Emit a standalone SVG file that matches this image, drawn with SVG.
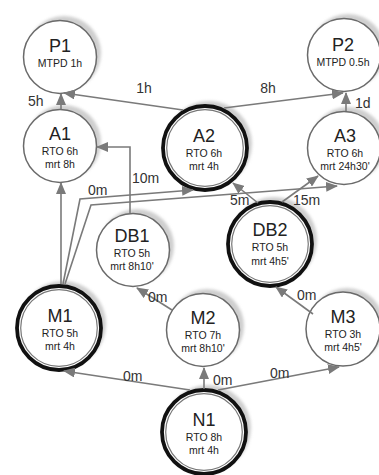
<svg xmlns="http://www.w3.org/2000/svg" width="379" height="475" viewBox="0 0 379 475">
<style>
.bg{fill:#fff}
.sh{fill:#cfcfcf;filter:url(#blur)}
.ring{fill:#fff;stroke:#6a6a6a;stroke-width:1.5}
.thick{fill:#fff;stroke:#111;stroke-width:3.8}
.inner{fill:none;stroke:#777;stroke-width:1.2}
.nm{font-family:"Liberation Sans",Arial,sans-serif;font-size:18px;fill:#222;text-anchor:middle}
.sub{font-family:"Liberation Sans",Arial,sans-serif;font-size:10.5px;fill:#222;text-anchor:middle}
.lbl{font-family:"Liberation Sans",Arial,sans-serif;font-size:14px;fill:#333}
.e{fill:none;stroke:#7a7a7a;stroke-width:1.6;marker-end:url(#ah)}
</style>
<defs>
<filter id="blur" x="-20%" y="-20%" width="140%" height="140%"><feGaussianBlur stdDeviation="1.5"/></filter>
<marker id="ah" markerUnits="userSpaceOnUse" markerWidth="12" markerHeight="10" refX="11" refY="5" orient="auto"><path d="M0,0 L12,5 L0,10 Z" fill="#7a7a7a"/></marker>
</defs>
<rect class="bg" width="379" height="475"/>

<g id="P1"><circle class="sh" cx="64" cy="53" r="37"/><circle class="ring" cx="60" cy="57" r="36.5"/><text class="nm" x="60" y="52">P1</text><text class="sub" x="60" y="67">MTPD 1h</text></g>
<g id="P2"><circle class="sh" cx="348" cy="51" r="37"/><circle class="ring" cx="344" cy="55" r="36.5"/><text class="nm" x="343" y="51">P2</text><text class="sub" x="343" y="66">MTPD 0.5h</text></g>
<g id="A1"><circle class="sh" cx="64" cy="142" r="37"/><circle class="ring" cx="60" cy="146" r="36.5"/><text class="nm" x="60" y="140">A1</text><text class="sub" x="60" y="155">RTO 6h</text><text class="sub" x="60" y="168">mrt 8h</text></g>
<g id="A2"><circle class="sh" cx="209" cy="144" r="43"/><circle class="thick" cx="205" cy="148" r="42"/><circle class="inner" cx="205" cy="148" r="38.3"/><text class="nm" x="204" y="142">A2</text><text class="sub" x="204" y="157">RTO 6h</text><text class="sub" x="204" y="170">mrt 4h</text></g>
<g id="A3"><circle class="sh" cx="348" cy="144" r="37"/><circle class="ring" cx="344" cy="148" r="36.5"/><text class="nm" x="345" y="142">A3</text><text class="sub" x="345" y="157">RTO 6h</text><text class="sub" x="345" y="170">mrt 24h30'</text></g>
<g id="DB1"><circle class="sh" cx="137" cy="246" r="37"/><circle class="ring" cx="133" cy="250" r="36.5"/><text class="nm" x="132" y="242">DB1</text><text class="sub" x="132" y="257">RTO 5h</text><text class="sub" x="132" y="270">mrt 8h10'</text></g>
<g id="DB2"><circle class="sh" cx="274" cy="240" r="43"/><circle class="thick" cx="270" cy="244" r="42"/><circle class="inner" cx="270" cy="244" r="38.3"/><text class="nm" x="270" y="236">DB2</text><text class="sub" x="270" y="251">RTO 5h</text><text class="sub" x="270" y="265">mrt 4h5'</text></g>
<g id="M1"><circle class="sh" cx="63" cy="324" r="43"/><circle class="thick" cx="59" cy="328" r="42"/><circle class="inner" cx="59" cy="328" r="38.3"/><text class="nm" x="60" y="322">M1</text><text class="sub" x="60" y="337">RTO 5h</text><text class="sub" x="60" y="350">mrt 4h</text></g>
<g id="M2"><circle class="sh" cx="207" cy="326" r="37"/><circle class="ring" cx="203" cy="330" r="36.5"/><text class="nm" x="203" y="324">M2</text><text class="sub" x="203" y="339">RTO 7h</text><text class="sub" x="203" y="352">mrt 8h10'</text></g>
<g id="M3"><circle class="sh" cx="347" cy="325" r="37"/><circle class="ring" cx="343" cy="329" r="37"/><text class="nm" x="343" y="323">M3</text><text class="sub" x="343" y="338">RTO 3h</text><text class="sub" x="343" y="351">mrt 4h5'</text></g>
<g id="N1"><circle class="sh" cx="208" cy="428" r="43"/><circle class="thick" cx="204" cy="432" r="42"/><circle class="inner" cx="204" cy="432" r="38.3"/><text class="nm" x="204" y="426">N1</text><text class="sub" x="204" y="441">RTO 8h</text><text class="sub" x="204" y="454">mrt 4h</text></g>

<g id="connectors">
<path class="e" d="M61,109 L61,94"/>
<path class="e" d="M183,110 L64,93"/>
<path class="e" d="M224,108 L343,93"/>
<path class="e" d="M346,111 L346,93"/>
<path class="e" d="M130,213 V147 H97"/>
<path class="e" d="M61,284 L61,183"/>
<path class="e" d="M63,284 L80,199 L193,190"/>
<path class="e" d="M65,284 L91,205 L337,186"/>
<path class="e" d="M258,203 L233,183"/>
<path class="e" d="M282,202 L318,176"/>
<path class="e" d="M172,310 L137,288"/>
<path class="e" d="M313,314 L276,287"/>
<path class="e" d="M190,390 L64,371"/>
<path class="e" d="M204,389 L204,368"/>
<path class="e" d="M218,390 L339,367"/>
<text class="lbl" x="28" y="106">5h</text>
<text class="lbl" x="144" y="93" text-anchor="middle">1h</text>
<text class="lbl" x="268" y="93" text-anchor="middle">8h</text>
<text class="lbl" x="355" y="108">1d</text>
<text class="lbl" x="132" y="183">10m</text>
<text class="lbl" x="88" y="195">0m</text>
<text class="lbl" x="230" y="205">5m</text>
<text class="lbl" x="293" y="205">15m</text>
<text class="lbl" x="148" y="302">0m</text>
<text class="lbl" x="297" y="300">0m</text>
<text class="lbl" x="123" y="381">0m</text>
<text class="lbl" x="213" y="385">0m</text>
<text class="lbl" x="270" y="378">0m</text>
</g>
</svg>
